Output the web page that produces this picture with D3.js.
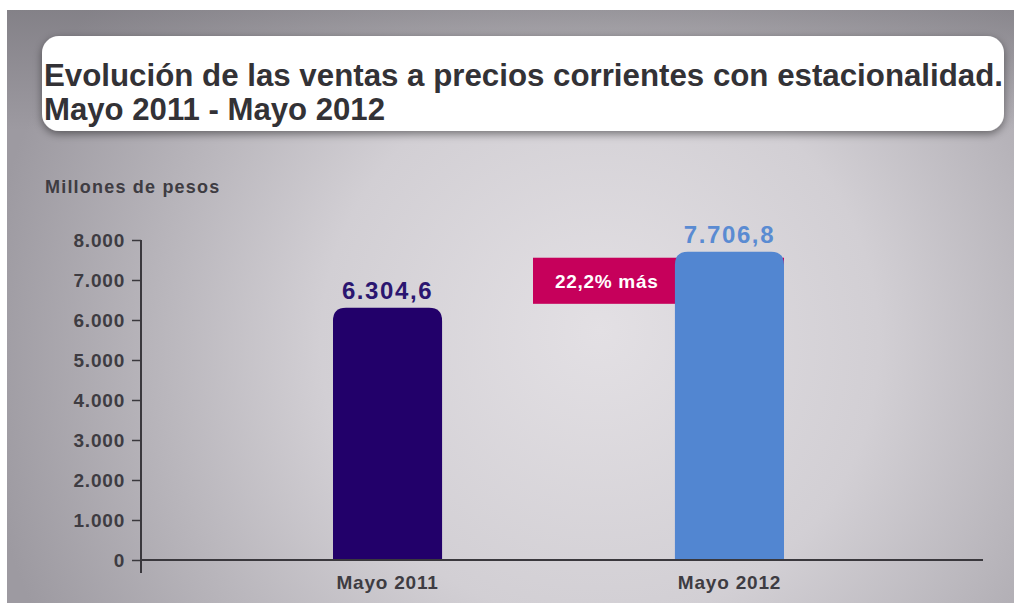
<!DOCTYPE html>
<html><head><meta charset="utf-8">
<script src="https://cdn.jsdelivr.net/npm/d3@7"></script>
<style>html,body{margin:0;padding:0;background:#fff;}svg{display:block;}</style>
</head><body>
<script>
const categories = ["Mayo 2011", "Mayo 2012"];
const values = [6304.6, 7706.8];
const valueLabels = ["6.304,6", "7.706,8"];
const yTicks = [0, 1000, 2000, 3000, 4000, 5000, 6000, 7000, 8000];
const yTickLabels = ["0", "1.000", "2.000", "3.000", "4.000", "5.000", "6.000", "7.000", "8.000"];
const titleLines = ["Evolución de las ventas a precios corrientes con estacionalidad.", "Mayo 2011 - Mayo 2012"];
const yAxisTitle = "Millones de pesos";
const annotation = "22,2% más";

const W = 1014, H = 603;
const svg = d3.select("body").append("svg").attr("width", W).attr("height", H);
const defs = svg.append("defs");
const rg = defs.append("radialGradient").attr("id", "bg").attr("gradientUnits", "userSpaceOnUse")
  .attr("cx", 600).attr("cy", 360).attr("r", 620).attr("fx", 600).attr("fy", 330);
rg.append("stop").attr("offset", 0).attr("stop-color", "#e3e0e4");
rg.append("stop").attr("offset", 0.45).attr("stop-color", "#d2cfd4");
rg.append("stop").attr("offset", 1).attr("stop-color", "#9d9aa1");
const lg = defs.append("linearGradient").attr("id", "topshade").attr("x1", 0).attr("x2", 0).attr("y1", 0).attr("y2", 1);
lg.append("stop").attr("offset", 0).attr("stop-color", "#6f6d73").attr("stop-opacity", 0.55);
lg.append("stop").attr("offset", 1).attr("stop-color", "#6f6d73").attr("stop-opacity", 0);
const f = defs.append("filter").attr("id", "shadow").attr("x", "-5%").attr("y", "-20%").attr("width", "110%").attr("height", "150%");
f.append("feDropShadow").attr("dx", 0).attr("dy", 3).attr("stdDeviation", 4).attr("flood-color", "#000").attr("flood-opacity", 0.45);

svg.append("rect").attr("x", 7).attr("y", 10).attr("width", W - 7).attr("height", H - 10).attr("fill", "url(#bg)");
svg.append("rect").attr("x", 7).attr("y", 10).attr("width", W - 7).attr("height", 120).attr("fill", "url(#topshade)");

// title box
svg.append("rect").attr("x", 42).attr("y", 36).attr("width", 962).attr("height", 95).attr("rx", 17)
  .attr("fill", "#fff").attr("filter", "url(#shadow)");
const tt = svg.append("text").attr("font-family", "Liberation Sans, Arial, sans-serif").attr("font-weight", "bold")
  .attr("font-size", 31).attr("fill", "#333236");
tt.append("tspan").attr("x", 44).attr("y", 86).attr("textLength", 959).attr("lengthAdjust", "spacingAndGlyphs").text(titleLines[0]);
tt.append("tspan").attr("x", 44).attr("y", 120).attr("textLength", 341).attr("lengthAdjust", "spacingAndGlyphs").text(titleLines[1]);

const margin = {left: 141, right: 983, top: 240, bottom: 560};
const y = d3.scaleLinear().domain([0, 8000]).range([margin.bottom, margin.top]);
const x = d3.scaleBand().domain(categories).range([333, 784]).paddingInner(0.681).paddingOuter(0);

const font = "Liberation Sans, Arial, sans-serif";
const textCol = "#3e3c42";

svg.append("text").attr("x", 45).attr("y", 193).attr("font-family", font).attr("font-weight", "bold")
  .attr("font-size", 18).attr("letter-spacing", 1.2).attr("fill", textCol).text(yAxisTitle);

// y axis
const yAxis = d3.axisLeft(y).tickValues(yTicks).tickFormat((d, i) => yTickLabels[i]).tickSize(9).tickPadding(7);
const gy = svg.append("g").attr("transform", `translate(${margin.left},0)`).call(yAxis);
gy.select(".domain").remove();
gy.append("line").attr("x1", 0).attr("x2", 0).attr("y1", y(8000)).attr("y2", 573).attr("stroke", "#3a383d").attr("stroke-width", 2);
gy.selectAll(".tick line").attr("stroke", "#3a383d").attr("stroke-width", 1.5);
gy.selectAll(".tick text").attr("font-family", font).attr("font-weight", "bold").attr("font-size", 19)
  .attr("letter-spacing", 0.8).attr("fill", textCol);

// x axis
svg.append("line").attr("x1", margin.left).attr("x2", margin.right).attr("y1", y(0)).attr("y2", y(0))
  .attr("stroke", "#3a383d").attr("stroke-width", 2);

const barColors = ["#22006a", "#5286d1"];
const labelColors = ["#2b1670", "#5a8bd2"];

// annotation rect (behind bar 2)
const xAnnLeft = 533;
svg.append("rect").attr("x", xAnnLeft).attr("y", y(values[1]) + 6).attr("width", x(categories[1]) + x.bandwidth() - xAnnLeft)
  .attr("height", y(values[0]) - y(values[1]) - 10).attr("fill", "#c6005b");
svg.append("text").attr("x", 555).attr("y", y(values[1]) + 36).attr("font-family", font).attr("font-weight", "bold")
  .attr("font-size", 19).attr("letter-spacing", 0.7).attr("fill", "#fff").text(annotation);

function topRounded(x0, y0, w, h, r) {
  return `M${x0},${y0 + h} V${y0 + r} Q${x0},${y0} ${x0 + r},${y0} H${x0 + w - r} Q${x0 + w},${y0} ${x0 + w},${y0 + r} V${y0 + h} Z`;
}
svg.selectAll("path.bar").data(values).enter().append("path").attr("class", "bar")
  .attr("d", (d, i) => topRounded(x(categories[i]), y(d), x.bandwidth(), y(0) - y(d) - 1, 13))
  .attr("fill", (d, i) => barColors[i]);

svg.selectAll("text.val").data(values).enter().append("text").attr("class", "val")
  .attr("x", (d, i) => x(categories[i]) + x.bandwidth() / 2).attr("y", d => y(d) - 9)
  .attr("text-anchor", "middle").attr("font-family", font).attr("font-weight", "bold").attr("font-size", 24)
  .attr("letter-spacing", 1.6).attr("fill", (d, i) => labelColors[i]).text((d, i) => valueLabels[i]);

svg.selectAll("text.cat").data(categories).enter().append("text").attr("class", "cat")
  .attr("x", d => x(d) + x.bandwidth() / 2).attr("y", 589).attr("text-anchor", "middle")
  .attr("font-family", font).attr("font-weight", "bold").attr("font-size", 19).attr("letter-spacing", 0.8)
  .attr("fill", textCol).text(d => d);
</script>
</body></html>
